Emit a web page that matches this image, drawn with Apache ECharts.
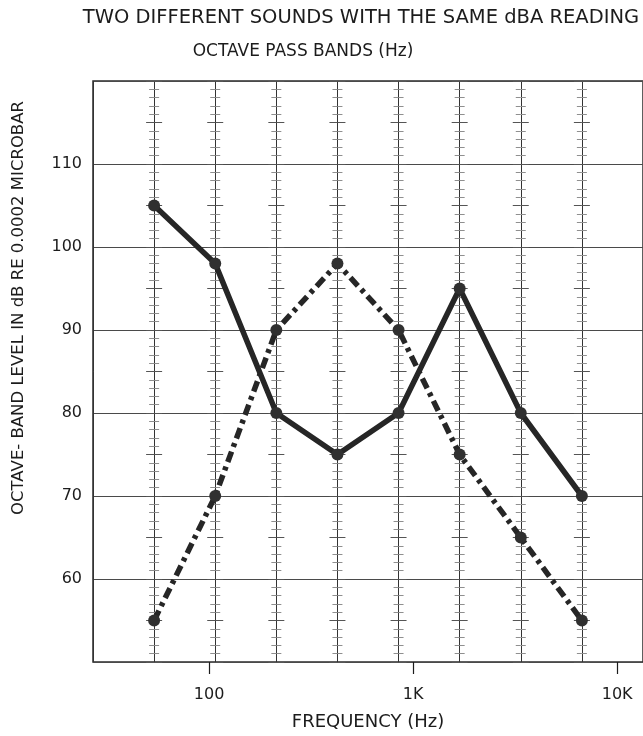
<!DOCTYPE html>
<html>
<head>
<meta charset="utf-8">
<script src="https://cdn.jsdelivr.net/npm/echarts@6/dist/echarts.min.js"></script>
<style>html,body{margin:0;padding:0;background:#fff;}#c{width:643px;height:736px;}</style>
</head>
<body>
<div id="c"></div>
<script>
// ---- data ----
var bands = ['63', '125', '250', '500', '1K', '2K', '4K', '8K'];
var bandIndex = [1, 2, 3, 4, 5, 6, 7, 8];
var soundSolid = [105, 98, 80, 75, 80, 95, 80, 70];
var soundDashed = [55, 70, 90, 98, 90, 75, 65, 55];
var freqTickValues = [100, 1000, 10000];
var freqTickLabels = ['100', '1K', '10K'];
var yTickLabels = [60, 70, 80, 90, 100, 110];

var titleText = 'TWO DIFFERENT SOUNDS WITH THE SAME dBA READING';
var subTitleText = 'OCTAVE PASS BANDS (Hz)';
var yName = 'OCTAVE- BAND LEVEL IN dB RE 0.0002 MICROBAR';
var xName = 'FREQUENCY (Hz)';

// ---- layout / style ----
var FONT = 'DejaVu Sans';
var INK = '#1c1c1c';
var GRID_LEFT = 93, GRID_TOP = 81, GRID_RIGHT = 0, GRID_BOTTOM = 70;
var GRID_W = 643 - GRID_LEFT - GRID_RIGHT;
var X_MIN = 0, X_MAX = 9;
var BAND_W = GRID_W / (X_MAX - X_MIN);
var POS_100HZ = 1.9; // axis position of 100 Hz on the octave axis
var POS_PER_OCTAVE = 1.005;

function freqPos(f) { return POS_100HZ + POS_PER_OCTAVE * Math.log(f / 100) / Math.LN2; }
var freqTickPos = freqTickValues.map(freqPos);

function zip(xs, ys) { return xs.map(function (x, i) { return [x, ys[i]]; }); }

var yAxes = [{
  type: 'value', min: 50, max: 120, interval: 10, position: 'left',
  axisLine: { show: false }, axisTick: { show: false },
  axisLabel: {
    color: INK, fontFamily: FONT, fontSize: 16, margin: 11,
    formatter: function (v) { return yTickLabels.indexOf(v) >= 0 ? String(v) : ''; }
  },
  splitLine: { show: true, lineStyle: { color: '#4a4a4a', width: 1 } }
}];
// graph-paper tick marks along every band line
bandIndex.forEach(function (k) {
  [true, false].forEach(function (inside) {
    yAxes.push({
      type: 'value', min: 50, max: 120, interval: 5, position: 'left',
      offset: -k * BAND_W,
      axisLine: { show: false },
      axisLabel: { show: false },
      splitLine: { show: false },
      axisTick: { show: true, inside: inside, length: 8, lineStyle: { color: '#555', width: 1 } },
      minorTick: { show: true, splitNumber: 5, length: 5, lineStyle: { color: '#8f8f8f', width: 1 } }
    });
  });
});

var option = {
  backgroundColor: '#ffffff',
  animation: false,
  title: [
    { text: titleText, left: 356, top: 3, textAlign: 'center',
      textStyle: { fontFamily: FONT, fontSize: 19.5, fontWeight: 'normal', color: INK } },
    { text: subTitleText, left: 298, top: 38, textAlign: 'center',
      textStyle: { fontFamily: FONT, fontSize: 17, fontWeight: 'normal', color: INK } }
  ],
  grid: {
    left: GRID_LEFT, top: GRID_TOP, right: GRID_RIGHT, bottom: GRID_BOTTOM,
    show: true, borderColor: '#2a2a2a', borderWidth: 1.5, backgroundColor: 'transparent'
  },
  xAxis: [
    { type: 'value', min: X_MIN, max: X_MAX, interval: 1, position: 'bottom',
      axisLine: { show: false }, axisTick: { show: false }, axisLabel: { show: false },
      splitLine: { show: true, lineStyle: { color: '#333', width: 1 } } },
    { type: 'value', min: X_MIN, max: X_MAX, position: 'bottom',
      axisLine: { show: false },
      axisTick: { show: true, customValues: freqTickPos, length: 12, lineStyle: { color: INK, width: 1.2 } },
      axisLabel: {
        show: true, customValues: freqTickPos, margin: 25,
        color: INK, fontFamily: FONT, fontSize: 16,
        formatter: function (v) {
          var best = 0;
          for (var i = 1; i < freqTickPos.length; i++) {
            if (Math.abs(freqTickPos[i] - v) < Math.abs(freqTickPos[best] - v)) best = i;
          }
          return freqTickLabels[best];
        }
      },
      splitLine: { show: false },
      name: xName, nameLocation: 'middle', nameGap: 51,
      nameTextStyle: { fontFamily: FONT, fontSize: 18, color: INK } }
  ],
  yAxis: yAxes,
  graphic: [{
    type: 'text', x: 19, y: 308, rotation: Math.PI / 2,
    style: { text: yName, fontFamily: FONT, fontSize: 16.5, fill: INK, align: 'center', verticalAlign: 'middle' }
  }],
  series: [
    { name: 'Sound A', type: 'line', xAxisIndex: 0, yAxisIndex: 0,
      data: zip(bandIndex, soundSolid),
      symbol: 'circle', symbolSize: 12,
      lineStyle: { color: '#262626', width: 5.5 },
      itemStyle: { color: '#303030' }, z: 5 },
    { name: 'Sound B', type: 'line', xAxisIndex: 0, yAxisIndex: 0,
      data: zip(bandIndex, soundDashed),
      symbol: 'circle', symbolSize: 12,
      lineStyle: { color: '#262626', width: 5.5, type: [11, 5, 4, 5], cap: 'butt' },
      itemStyle: { color: '#303030' }, z: 4 }
  ]
};

var chart = echarts.init(document.getElementById('c'), null, { renderer: 'canvas' });
chart.setOption(option);
</script>
</body>
</html>
